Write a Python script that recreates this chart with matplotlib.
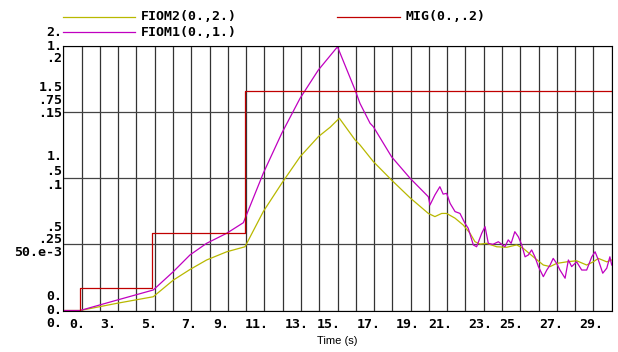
import numpy as np
import matplotlib
matplotlib.use('Agg')
import matplotlib.pyplot as plt
from matplotlib.lines import Line2D

# data (time in s, values in their own units)
fiom1_t = [0, 0.92, 2.92, 4.92, 6.02, 6.93, 7.84, 8.94, 9.85, 10.94, 11.95, 12.95,
           13.95, 15.0, 15.96, 16.23, 16.78, 16.96, 17.96, 18.97, 19.97, 20.06, 20.33,
           20.6, 20.78, 20.97, 21.16, 21.43, 21.7, 21.97, 22.15, 22.43, 22.61, 22.89,
           23.07, 23.25, 23.5, 23.8, 24.16, 24.34, 24.5, 24.7, 24.89, 25.08, 25.26,
           25.44, 25.62, 25.8, 25.99, 26.26, 26.45, 26.63, 26.8, 26.99, 27.17, 27.45,
           27.63, 27.81, 28.08, 28.36, 28.63, 28.91, 29.09, 29.27, 29.51, 29.73, 29.9, 30.0]
fiom1 = [0, 0, 0.039, 0.0775, 0.147, 0.21, 0.254, 0.292, 0.332, 0.519, 0.67, 0.802,
         0.909, 0.997, 0.834, 0.783, 0.708, 0.695, 0.581, 0.5, 0.43, 0.399, 0.437,
         0.468, 0.44, 0.443, 0.405, 0.374, 0.367, 0.33, 0.311, 0.248, 0.241, 0.292,
         0.317, 0.254, 0.25, 0.26, 0.241, 0.267, 0.254, 0.298, 0.279, 0.248, 0.203,
         0.21, 0.229, 0.203, 0.166, 0.128, 0.153, 0.172, 0.197, 0.178, 0.153, 0.122,
         0.191, 0.166, 0.184, 0.153, 0.153, 0.203, 0.222, 0.191, 0.141, 0.16, 0.203, 0.172]

fiom2_t = [0, 0.92, 2.92, 4.92, 6.02, 6.93, 7.84, 8.94, 9.94, 10.94, 11.95, 12.95,
           13.95, 14.6, 15.1, 15.96, 16.23, 16.96, 17.96, 18.97, 19.97, 20.33, 20.7,
           20.97, 21.43, 21.88, 22.25, 22.52, 22.8, 23.16, 23.71, 24.26, 24.8, 25.16,
           25.71, 26.26, 26.63, 26.99, 27.54, 28.08, 28.63, 28.99, 29.27, 29.73, 30.0]
fiom2 = [0, 0, 0.054, 0.104, 0.23, 0.31, 0.382, 0.444, 0.482, 0.748, 0.962, 1.162,
         1.314, 1.386, 1.454, 1.29, 1.252, 1.126, 0.986, 0.852, 0.734, 0.71, 0.734,
         0.734, 0.698, 0.646, 0.584, 0.52, 0.502, 0.508, 0.482, 0.478, 0.496, 0.47,
         0.406, 0.344, 0.332, 0.356, 0.368, 0.376, 0.344, 0.368, 0.394, 0.368, 0.382]

mig_t = [0, 0.92, 4.87, 9.94, 30.0]
mig = [0, 0.0168, 0.0584, 0.166, 0.166]

# axis scales (full scale of each series) and label texts
fiom1_max, fiom2_max, mig_max = 1.0, 2.0, 0.2
fiom2_labels = ['0.', '.5', '1.', '1.5', '2.']
fiom1_labels = ['0.', '.25', '.5', '.75', '1.']
mig_labels = ['0.', '50.e-3', '.1', '.15', '.2']
xtick_pos = [0.78, 2.45, 4.69, 6.88, 8.63, 10.6, 12.79, 14.54, 16.72, 18.86,
             20.61, 22.8, 24.49, 26.68, 28.87]
xtick_labels = ['0.', '3.', '5.', '7.', '9.', '11.', '13.', '15.', '17.', '19.',
                '21.', '23.', '25.', '27.', '29.']

c_fiom2 = '#b8b800'
c_fiom1 = '#c000c0'
c_mig = '#c00000'
mono = dict(family='DejaVu Sans Mono', weight='bold', size=9.5)

fig = plt.figure(figsize=(6.18, 3.52), dpi=100)
ax = fig.add_axes([63.3 / 618, 41.5 / 352, 548.4 / 618, 264.5 / 352])

# everything drawn on the FIOM1 scale (0..1)
ax.plot(fiom2_t, np.array(fiom2) / fiom2_max, color=c_fiom2, lw=0.9)
ax.plot(fiom1_t, np.array(fiom1) / fiom1_max, color=c_fiom1, lw=0.9)
ax.plot(mig_t, np.array(mig) / mig_max, color=c_mig, lw=0.9, drawstyle='steps-post')

ax.set_xlim(0, 30)
ax.set_ylim(0, 1)
ax.set_xticks(np.arange(31), minor=True)
ax.set_xticks(xtick_pos, xtick_labels, fontdict=mono)
ax.set_yticks(np.linspace(0, 1, 5), [''] * 5)
ax.tick_params(which='both', length=0)
ax.tick_params(axis='x', pad=5.5)
ax.grid(which='minor', axis='x', color='#333333', lw=0.9)
ax.grid(which='major', axis='y', color='#444444', lw=0.9)
ax.grid(which='major', axis='x', visible=False)
for s in ax.spines.values():
    s.set_color('black')
    s.set_linewidth(0.8)

# stacked y labels, offsets in pixels (up positive)
offs = [(14, 0, -13), (17, 5, -8), (21.5, 6.5, -7.5), (25, 11.5, -1), (14, 0, -12.7)]
for i in range(5):
    y = i / 4
    for lab, dy in zip([fiom2_labels[i], fiom1_labels[i], mig_labels[i]], offs[i]):
        ax.annotate(lab, xy=(0, y), xycoords='data', xytext=(-1 * 0.72, dy * 0.72),
                    textcoords='offset points', ha='right', va='center',
                    annotation_clip=False, **mono)

ax.text(0.5, -31 / 264.5, 'Time (s)', transform=ax.transAxes, ha='center',
        va='center', family='Liberation Sans', size=8)

# legend drawn by hand
def leg(x0, x1, y, color, text):
    fig.add_artist(Line2D([x0 / 618, x1 / 618], [1 - y / 352, 1 - y / 352],
                          color=color, lw=0.9))
    fig.text((x1 + 6) / 618, 1 - y / 352, text, ha='left', va='center', **mono)

leg(63, 135, 17, c_fiom2, 'FIOM2(0.,2.)')
leg(63, 135, 32, c_fiom1, 'FIOM1(0.,1.)')
leg(337, 400, 17, c_mig, 'MIG(0.,.2)')

fig.savefig('out.png', dpi=100)
